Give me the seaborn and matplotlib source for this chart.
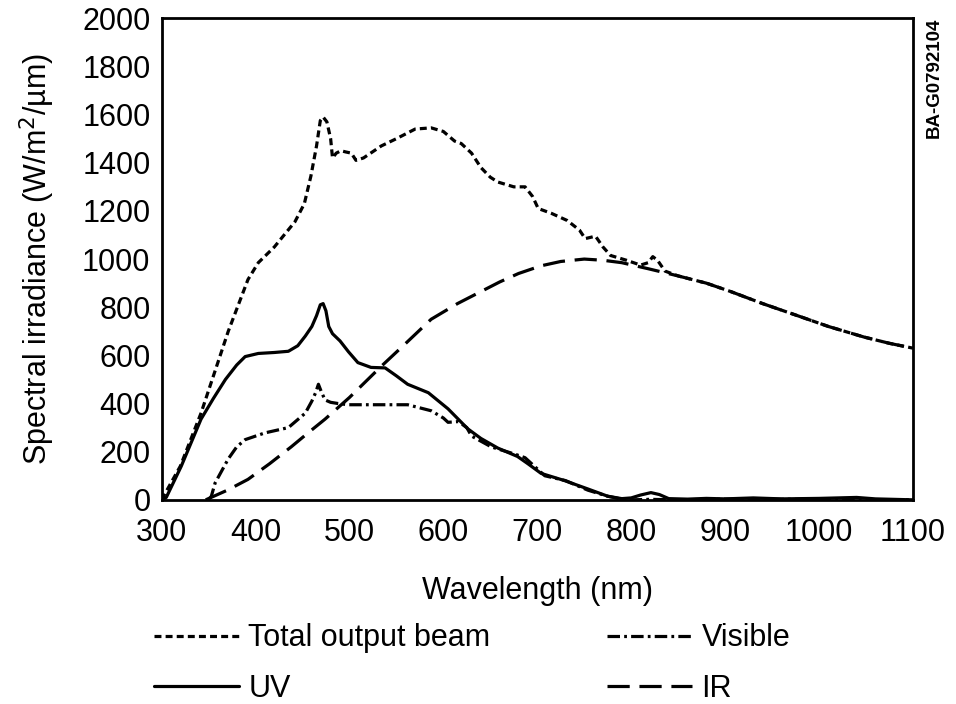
import numpy as np
import pandas as pd
import seaborn as sns
from matplotlib import pyplot as plt

# values (wavelength in nm, irradiance in W/m2/um)
wl_total = [300, 320, 342, 371, 392, 403, 420, 442, 452, 459, 465, 469, 472, 476, 480, 482,
            486, 491, 496, 502, 507, 515, 534, 550, 570, 587, 600, 612, 619, 630, 640, 650,
            658, 675, 687, 695, 701, 715, 732, 745, 751, 762, 770, 778, 795, 810, 818, 823,
            828, 836, 850, 880, 906, 940, 977, 1010, 1048, 1075, 1100]
total = [0, 140, 360, 700, 915, 985, 1050, 1155, 1230, 1345, 1470, 1575, 1590, 1570, 1500, 1420,
         1440, 1450, 1445, 1440, 1410, 1420, 1470, 1500, 1540, 1545, 1530, 1490, 1480, 1440, 1380, 1340,
         1320, 1300, 1300, 1260, 1210, 1190, 1160, 1120, 1085, 1095, 1050, 1015, 995, 975, 985, 1010,
         995, 950, 930, 900, 865, 815, 765, 720, 676, 650, 630]

wl_uv = [300, 305, 321, 342, 355, 368, 380, 389, 403, 420, 435, 445, 453, 460, 465, 469, 472,
         475, 478, 482, 490, 499, 509, 523, 538, 550, 562, 584, 605, 626, 640, 658, 679, 690,
         704, 729, 754, 775, 790, 800, 810, 821, 830, 840, 860, 880, 900, 930, 960, 1000, 1040,
         1060, 1100]
uv = [0, 10, 140, 335, 420, 500, 560, 595, 608, 612, 617, 640, 680, 720, 765, 810, 815,
      785, 720, 690, 660, 615, 570, 550, 548, 515, 480, 445, 378, 295, 255, 215, 180, 150,
      110, 80, 45, 15, 5, 8, 20, 30, 22, 5, 3, 6, 4, 8, 4, 6, 10,
      4, 0]

wl_vis = [350, 353, 357, 364, 371, 380, 389, 410, 435, 453, 460, 464, 467, 470, 474, 480, 488,
          499, 534, 562, 587, 600, 605, 616, 625, 630, 651, 676, 687, 708, 730, 754, 775, 790,
          800, 820, 850, 900, 1000, 1100]
vis = [0, 15, 70, 120, 170, 220, 250, 278, 300, 360, 410, 445, 480, 450, 415, 405, 400,
       395, 395, 395, 370, 340, 322, 325, 300, 265, 220, 190, 175, 100, 80, 40, 15, 3,
       0, 2, 0, 3, 2, 0]

wl_ir = [347, 370, 392, 415, 438, 455, 474, 500, 534, 560, 587, 615, 640, 660, 680, 704, 725,
         750, 770, 790, 818, 850, 880, 906, 940, 977, 1010, 1048, 1075, 1100]
ir = [0, 40, 85, 150, 220, 275, 335, 425, 555, 650, 750, 815, 865, 905, 940, 972, 990,
      1000, 995, 985, 960, 930, 900, 865, 815, 765, 720, 676, 650, 630]

sns.set_style("white")
plt.rcParams['font.family'] = ['Liberation Sans', 'DejaVu Sans']
plt.rcParams['lines.scale_dashes'] = False
plt.rcParams['text.color'] = 'black'
plt.rcParams['axes.labelcolor'] = 'black'

fig = plt.figure(figsize=(9.56, 7.04), dpi=100)
ax = fig.add_axes([0.169, 0.290, 0.786, 0.684])

lw = 2.3
sns.lineplot(x=wl_total, y=total, ax=ax, color='black', lw=lw, dashes=(5, 3), label='Total output beam')
sns.lineplot(x=wl_uv, y=uv, ax=ax, color='black', lw=lw, label='UV')
sns.lineplot(x=wl_vis, y=vis, ax=ax, color='black', lw=lw, dashes=(9, 3, 2, 3), label='Visible')
sns.lineplot(x=wl_ir, y=ir, ax=ax, color='black', lw=lw, dashes=(16, 7), label='IR')

ax.set_xlim(300, 1100)
ax.set_ylim(0, 2000)
ax.set_xticks(np.arange(300, 1101, 100))
ax.set_yticks(np.arange(0, 2001, 200))
ax.tick_params(direction='in', length=9, width=1.5, labelsize=22, colors='black')
ax.tick_params(axis='x', pad=13)
ax.tick_params(axis='y', pad=8)
for s in ax.spines.values():
    s.set_color('black')
    s.set_linewidth(2)

ax.set_xlabel('Wavelength (nm)', fontsize=22, labelpad=20)
ax.set_ylabel('Spectral irradiance (W/m$^2$/µm)', fontsize=22, labelpad=18)
fig.text(0.977, 0.975, 'BA-G0792104', rotation=90, ha='center', va='top', fontsize=13.5, fontweight='bold')

ax.get_legend().remove()
h, l = ax.get_legend_handles_labels()
fig.legend(h, l, ncol=2, loc='upper left', bbox_to_anchor=(0.148, 0.132), frameon=False,
           fontsize=22, handlelength=2.8, handletextpad=0.3, columnspacing=3.8,
           labelspacing=0.68, borderaxespad=0)

fig.savefig('out.png', dpi=100)
